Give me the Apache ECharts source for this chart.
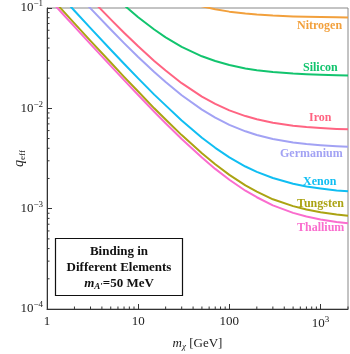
<!DOCTYPE html>
<html>
<head>
<meta charset="utf-8">
<script src="https://cdn.jsdelivr.net/npm/echarts@6/dist/echarts.min.js"></script>
<style>html,body{margin:0;padding:0;background:#fff}#c{width:350px;height:354px}</style>
</head>
<body>
<div id="c"></div>
<script>
// ---- data ----
const masses = [1, 1.5, 2, 3, 5, 7, 10, 15, 20, 30, 50, 70, 100, 150, 200, 300, 500, 700, 1000, 1500, 2000];
const thallium = [0.130, 0.0867, 0.0652, 0.0437, 0.0265, 0.0191, 0.0136, 0.00925, 0.0071, 0.00495, 0.00323, 0.00249, 0.00194, 0.00151, 0.00130, 0.00108, 0.000908, 0.000834, 0.000779, 0.000736, 0.000715];
const tungsten = [0.140, 0.0935, 0.0703, 0.0471, 0.0286, 0.0206, 0.0147, 0.0100, 0.00773, 0.00541, 0.00356, 0.00277, 0.00217, 0.00171, 0.00148, 0.00124, 0.00106, 0.000979, 0.000919, 0.000873, 0.000850];
const xenon = [0.186, 0.125, 0.0939, 0.0631, 0.0384, 0.0278, 0.0199, 0.0137, 0.0107, 0.00757, 0.0051, 0.00404, 0.00325, 0.00263, 0.00233, 0.00202, 0.00177, 0.00166, 0.00159, 0.00152, 0.00149];
const germanium = [0.289, 0.194, 0.1465, 0.099, 0.061, 0.0447, 0.0325, 0.023, 0.0183, 0.0135, 0.0097, 0.00807, 0.00685, 0.0059, 0.00543, 0.00495, 0.00457, 0.00441, 0.00429, 0.00419, 0.00414];
const iron = [0.361, 0.243, 0.1835, 0.124, 0.077, 0.0567, 0.0415, 0.0297, 0.0238, 0.0178, 0.0131, 0.0111, 0.00955, 0.00837, 0.00778, 0.00718, 0.00671, 0.00651, 0.00636, 0.00624, 0.00618];
const silicon = [0.621, 0.421, 0.321, 0.221, 0.141, 0.1067, 0.081, 0.061, 0.051, 0.041, 0.033, 0.0296, 0.027, 0.025, 0.024, 0.023, 0.0222, 0.0219, 0.0216, 0.0214, 0.0213];
const nitrogen = [1.28, 0.88, 0.68, 0.48, 0.32, 0.251, 0.2, 0.16, 0.14, 0.12, 0.104, 0.0971, 0.092, 0.088, 0.086, 0.084, 0.0824, 0.0817, 0.0812, 0.0808, 0.0806];
const elementNames = ['Nitrogen', 'Silicon', 'Iron', 'Germanium', 'Xenon', 'Tungsten', 'Thallium'];
const xTickValues = [1, 10, 100, 1000];
const xTickLabels = ['1', '10', '100', '10^3'];
const yTickValues = [0.0001, 0.001, 0.01, 0.1];
const yTickLabels = ['10^-4', '10^-3', '10^-2', '10^-1'];
const boxLines = ['Binding in', 'Different Elements', 'm_A\'=50 MeV'];

const colors = {
  Nitrogen: '#F2A03C', Silicon: '#12C46E', Iron: '#FF6482', Germanium: '#A2A2F4',
  Xenon: '#10BEF2', Tungsten: '#ABA312', Thallium: '#FA6CCE'
};
const seriesData = {Nitrogen: nitrogen, Silicon: silicon, Iron: iron, Germanium: germanium, Xenon: xenon, Tungsten: tungsten, Thallium: thallium};
// label placement (pixel left x, middle y)
const labelPos = {
  Nitrogen: [297, 26], Silicon: [303, 68], Iron: [309, 118], Germanium: [280, 154],
  Xenon: [303, 182], Tungsten: [297, 204], Thallium: [297, 228]
};

const FONT = '"Liberation Serif","Times New Roman",serif';

function powLabel(str) {
  const parts = str.split('^');
  if (parts.length === 1) return '{b|' + str + '}';
  return '{b|' + parts[0] + '}{s|' + parts[1].replace('-', '\u2212') + '}';
}
function lookupLabel(values, labels, v) {
  for (let i = 0; i < values.length; i++) {
    if (Math.abs(Math.log10(v) - Math.log10(values[i])) < 1e-6) return powLabel(labels[i]);
  }
  return '';
}

const chart = echarts.init(document.getElementById('c'), null, {renderer: 'canvas'});

const series = elementNames.map(n => ({
  name: n,
  type: 'line',
  data: masses.map((m, i) => [m, seriesData[n][i]]),
  showSymbol: false,
  smooth: false,
  clip: true,
  lineStyle: {width: 2, color: colors[n], join: 'round'},
  itemStyle: {color: colors[n]},
  animation: false
}));

const richAxis = {
  b: {fontFamily: FONT, fontSize: 13, color: '#222'},
  s: {fontFamily: FONT, fontSize: 9, color: '#222', verticalAlign: 'top', padding: [0, 0, 8, 0]}
};

const option = {
  animation: false,
  grid: {left: 47, right: 2, top: 8, bottom: 45, show: true, borderColor: '#888', borderWidth: 1, backgroundColor: 'transparent', containLabel: false, outerBoundsMode: 'none'},
  xAxis: {
    type: 'log', logBase: 10, min: 1, max: 2000,
    name: '{i|m}{sub|\u03C7}{n| [GeV]}',
    nameLocation: 'middle', nameGap: 27,
    nameTextStyle: {
      rich: {
        i: {fontFamily: FONT, fontStyle: 'italic', fontSize: 13, color: '#222'},
        sub: {fontFamily: FONT, fontStyle: 'italic', fontSize: 9, color: '#222', padding: [6, 0, 0, 0]},
        n: {fontFamily: FONT, fontSize: 13, color: '#222'}
      }
    },
    axisLine: {show: true, lineStyle: {color: '#333', width: 1}},
    axisTick: {show: true, inside: true, length: 5, lineStyle: {color: '#333'}},
    splitLine: {show: false},
    minorTick: {show: false},
    axisLabel: {
      margin: 6, showMaxLabel: false,
      formatter: v => lookupLabel(xTickValues, xTickLabels, v),
      rich: richAxis
    }
  },
  yAxis: {
    type: 'log', logBase: 10, min: 0.0001, max: 0.1,
    name: '{i|q}{sub|eff}',
    nameLocation: 'middle', nameGap: 20, nameRotate: 90,
    nameMoveOverlap: false,
    nameTextStyle: {
      rich: {
        i: {fontFamily: FONT, fontStyle: 'italic', fontSize: 14, color: '#222'},
        sub: {fontFamily: FONT, fontSize: 9, color: '#222', padding: [6, 0, 0, 0]}
      }
    },
    axisLine: {show: true, lineStyle: {color: '#333', width: 1}},
    axisTick: {show: true, inside: true, length: 5, lineStyle: {color: '#333'}},
    splitLine: {show: false},
    axisLabel: {
      margin: 4,
      formatter: v => lookupLabel(yTickValues, yTickLabels, v),
      rich: richAxis
    }
  },
  series: series
};
chart.setOption(option);

// graphics: minor ticks via the chart's own scales, curve labels and legend box
const g = [];
const xMin = chart.convertToPixel({yAxisIndex: 0}, 0.0001);
const xLeft = chart.convertToPixel({xAxisIndex: 0}, 1);
for (let d = 0; d < 4; d++) {
  for (let k = 2; k <= 9; k++) {
    const v = k * Math.pow(10, d);
    if (v > 2000) continue;
    const px = chart.convertToPixel({xAxisIndex: 0}, v);
    g.push({type: 'line', shape: {x1: px, y1: xMin, x2: px, y2: xMin - 2.5}, style: {stroke: '#333', lineWidth: 1}, z: 10});
  }
}
for (let d = -4; d < -1; d++) {
  for (let k = 2; k <= 9; k++) {
    const v = k * Math.pow(10, d);
    const py = chart.convertToPixel({yAxisIndex: 0}, v);
    g.push({type: 'line', shape: {x1: xLeft, y1: py, x2: xLeft + 2.5, y2: py}, style: {stroke: '#333', lineWidth: 1}, z: 10});
  }
}
elementNames.forEach(n => {
  g.push({
    type: 'text', x: labelPos[n][0], y: labelPos[n][1], z: 20,
    style: {text: n, fill: colors[n], font: 'bold 12px ' + FONT, verticalAlign: 'middle', align: 'left'}
  });
});
g.push({type: 'rect', shape: {x: 55.5, y: 238.5, width: 127, height: 57}, style: {fill: '#fff', stroke: '#111', lineWidth: 1.2}, z: 20});
g.push({type: 'text', x: 119, y: 252, z: 21, style: {text: boxLines[0], fill: '#111', font: 'bold 13px ' + FONT, align: 'center', verticalAlign: 'middle'}});
g.push({type: 'text', x: 119, y: 268, z: 21, style: {text: boxLines[1], fill: '#111', font: 'bold 13px ' + FONT, align: 'center', verticalAlign: 'middle'}});
g.push({type: 'text', x: 119, y: 284, z: 21, style: {
  text: '{i|m}{sub|A\u2032}{n|=50 MeV}', align: 'center', verticalAlign: 'middle',
  rich: {
    i: {fontFamily: FONT, fontWeight: 'bold', fontStyle: 'italic', fontSize: 13, fill: '#111'},
    sub: {fontFamily: FONT, fontWeight: 'bold', fontStyle: 'italic', fontSize: 9, fill: '#111', padding: [6, 0, 0, 0]},
    n: {fontFamily: FONT, fontWeight: 'bold', fontSize: 13, fill: '#111'}
  }
}});
chart.setOption({graphic: g});
</script>
</body>
</html>
